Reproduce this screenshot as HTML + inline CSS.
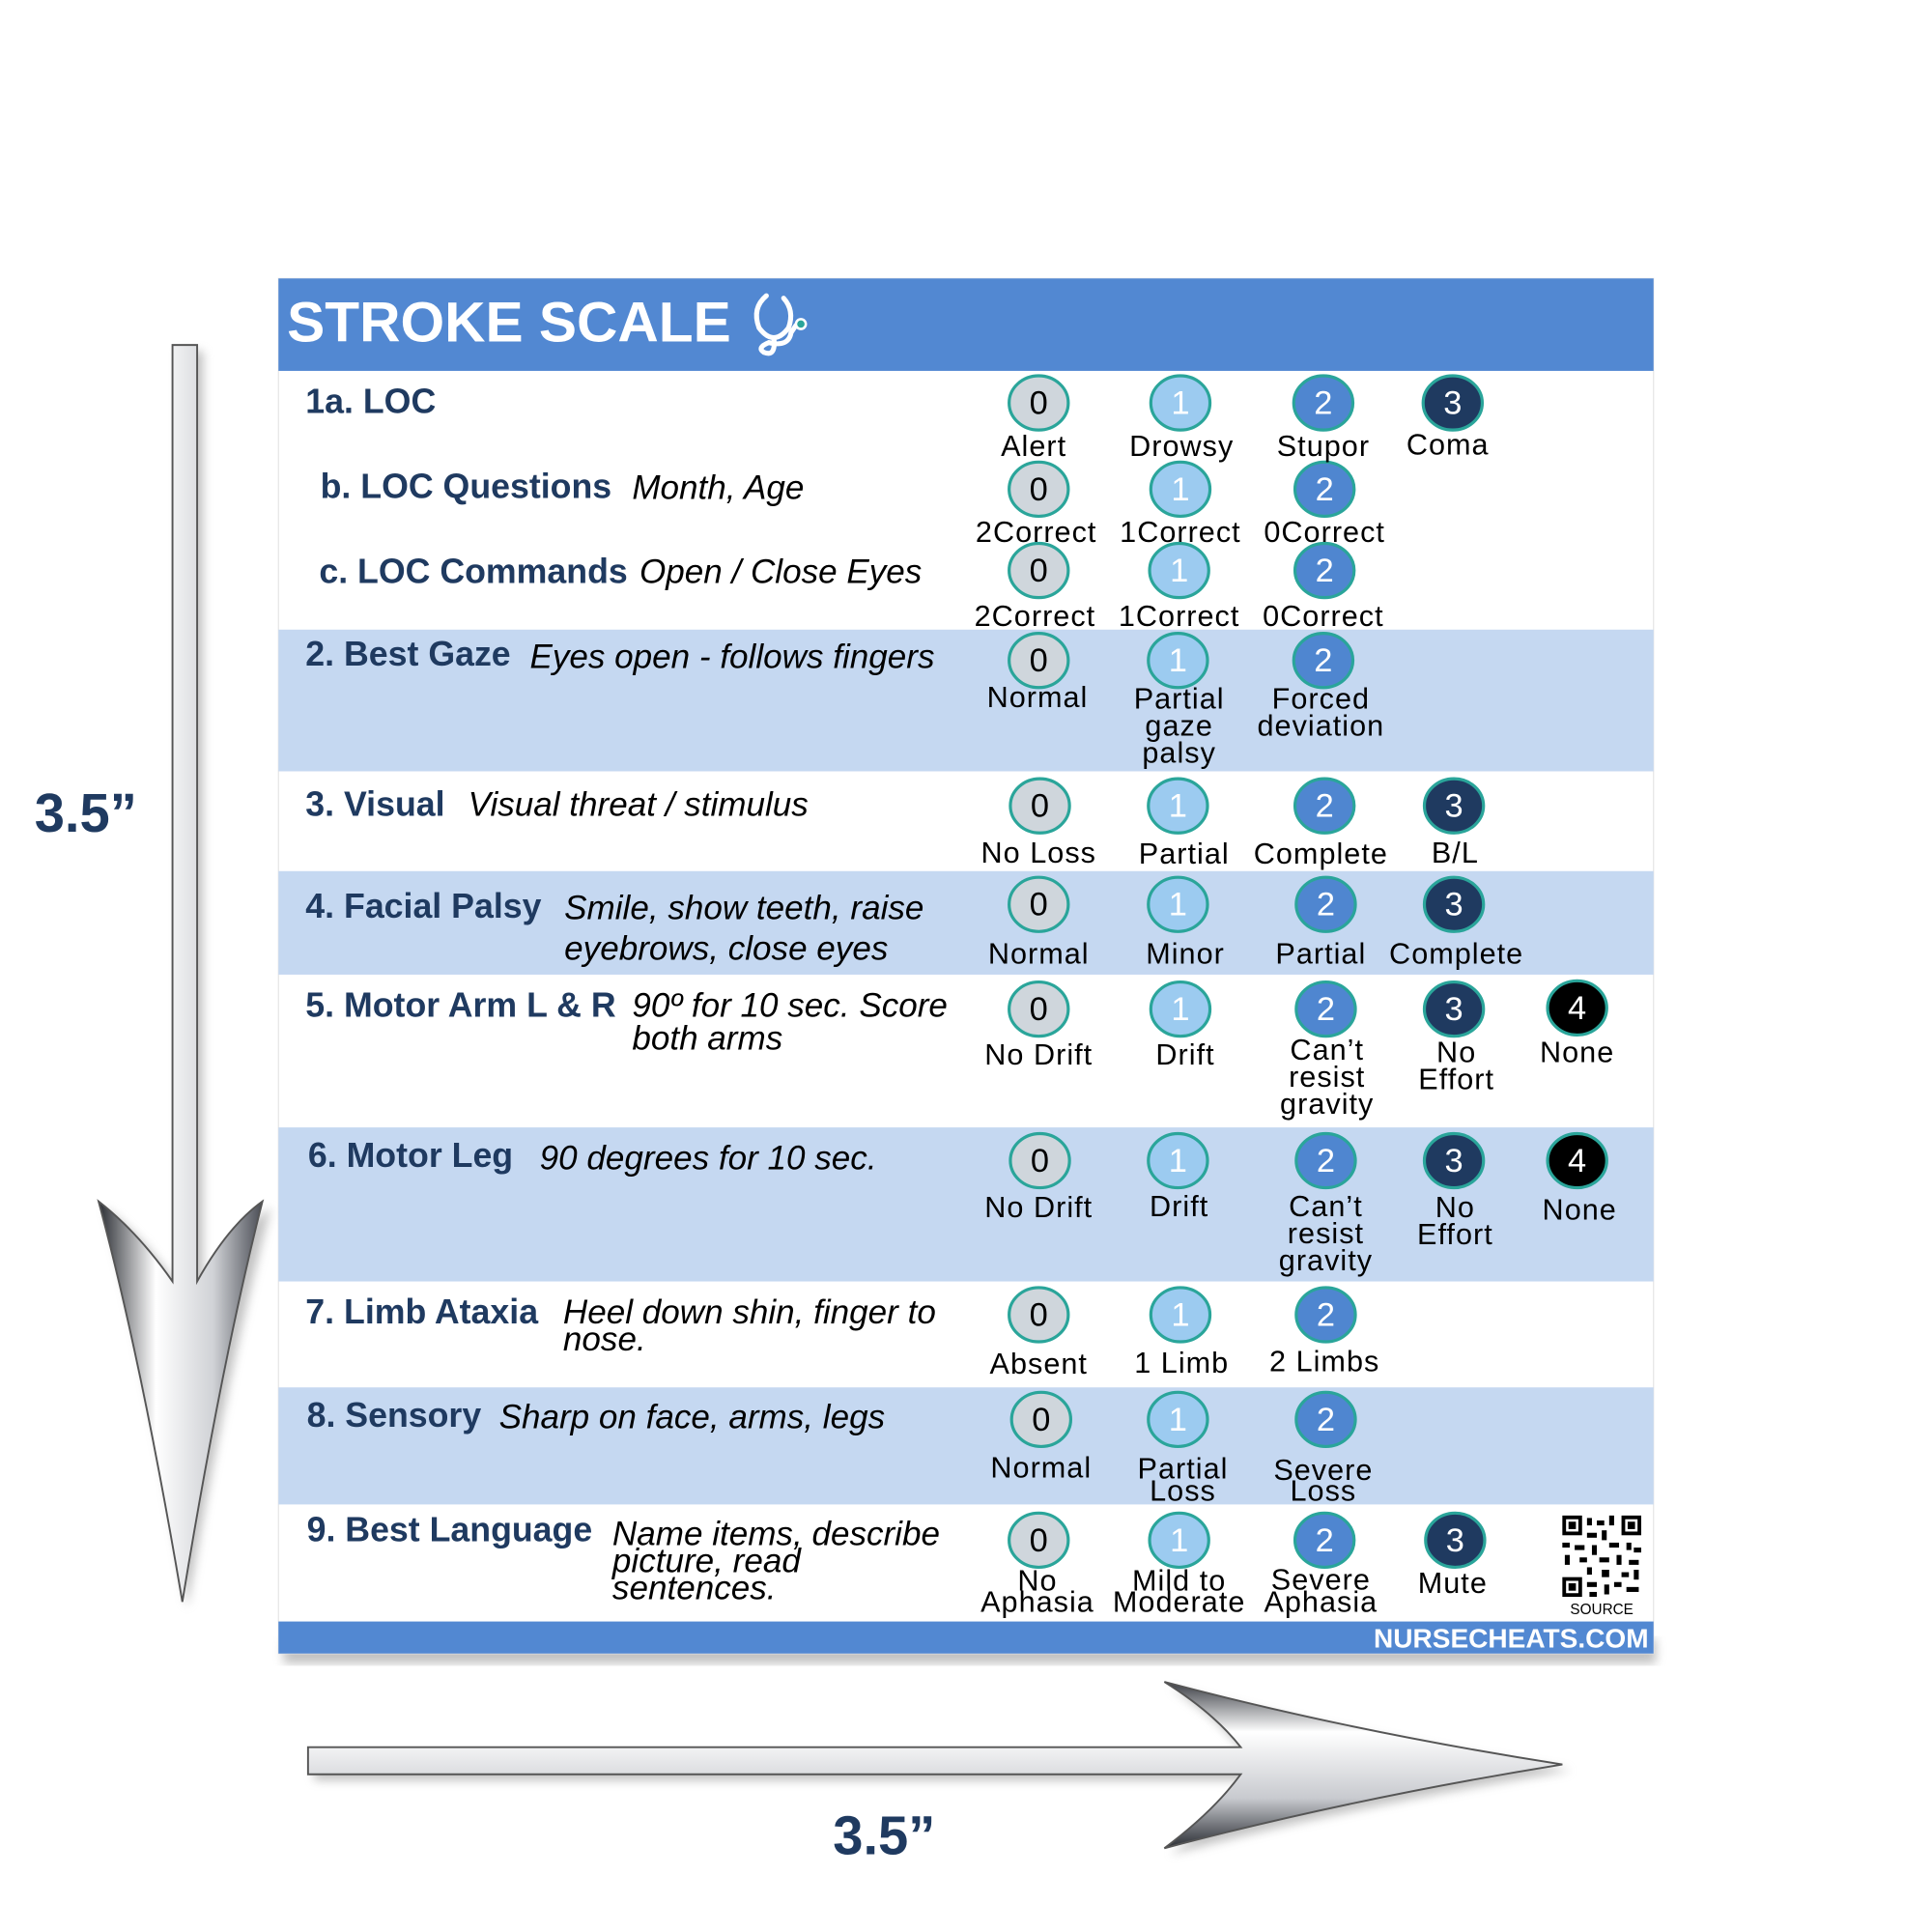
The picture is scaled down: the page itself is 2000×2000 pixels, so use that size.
<!DOCTYPE html>
<html><head><meta charset="utf-8"><style>
html,body{margin:0;padding:0;background:#fff;}
svg{display:block;}
.l{font-family:"Liberation Sans",Arial,sans-serif;font-weight:bold;fill:#1f3a60;font-size:28px;}
.d{font-family:"Liberation Sans",Arial,sans-serif;font-style:italic;fill:#000;font-size:27.5px;}
.o{font-family:"Liberation Sans",Arial,sans-serif;fill:#000;font-size:24px;letter-spacing:0.8px;text-anchor:middle;}
</style></head><body>
<svg width="2000" height="2000" viewBox="0 0 1568 1568" xmlns="http://www.w3.org/2000/svg">
<defs>
<linearGradient id="mv" x1="0" x2="1" y1="0" y2="0">
<stop offset="0" stop-color="#2a2d33"/><stop offset="0.35" stop-color="#ffffff"/><stop offset="0.7" stop-color="#d0d2d6"/><stop offset="1" stop-color="#4a4d55"/></linearGradient>
<linearGradient id="mh" x1="0" x2="0" y1="0" y2="1">
<stop offset="0" stop-color="#3a3d44"/><stop offset="0.3" stop-color="#ffffff"/><stop offset="0.7" stop-color="#c8cacf"/><stop offset="1" stop-color="#2a2d33"/></linearGradient>
<filter id="sh"><feGaussianBlur stdDeviation="4"/></filter>
</defs>
<rect x="230" y="1330" width="1114" height="20" fill="#999" filter="url(#sh)" opacity="0.6"/>
<rect x="226" y="226" width="1116" height="1116" fill="#fff" stroke="#e6e6e6"/>
<rect x="226" y="226" width="1116" height="75" fill="#5288d2"/>
<text x="233" y="277" font-family="Liberation Sans,Arial,sans-serif" font-weight="bold" font-size="46" fill="#fff">STROKE SCALE</text>
<g fill="none" stroke="#fff" stroke-width="4" stroke-linecap="round">
<path d="M622 240 Q610 250 616 266 Q628 282 640 266 Q645 252 636 242"/>
<path d="M628 274 Q630 290 620 286 Q614 282 624 278 Q640 282 642 270 L646 264"/>
</g>
<circle cx="650" cy="263" r="4" fill="#2aa59a" stroke="#fff" stroke-width="2"/>
<rect x="226" y="511" width="1116" height="115" fill="#c5d8f1"/>
<rect x="226" y="707" width="1116" height="84" fill="#c5d8f1"/>
<rect x="226" y="915" width="1116" height="125" fill="#c5d8f1"/>
<rect x="226" y="1126" width="1116" height="95" fill="#c5d8f1"/>
<rect x="226" y="1316" width="1116" height="26" fill="#5288d2"/>
<text x="1338" y="1337" text-anchor="end" font-family="Liberation Sans,Arial,sans-serif" font-weight="bold" font-size="22" fill="#fff">NURSECHEATS.COM</text>

<text class="l" x="248" y="335">1a. LOC</text>
<text class="l" x="260" y="404">b. LOC Questions</text><text class="d" x="513" y="405">Month, Age</text>
<text class="l" x="259" y="473">c. LOC Commands</text><text class="d" x="519" y="473">Open / Close Eyes</text>
<text class="l" x="248" y="540">2. Best Gaze</text><text class="d" x="430" y="542">Eyes open - follows fingers</text>
<text class="l" x="248" y="662">3. Visual</text><text class="d" x="380" y="662">Visual threat / stimulus</text>
<text class="l" x="248" y="745">4. Facial Palsy</text><text class="d" x="458" y="746">Smile, show teeth, raise</text><text class="d" x="458" y="779">eyebrows, close eyes</text>
<text class="l" x="248" y="825">5. Motor Arm L &amp; R</text><text class="d" x="513" y="825">90º for 10 sec. Score</text><text class="d" x="513" y="852">both arms</text>
<text class="l" x="250" y="947">6. Motor Leg</text><text class="d" x="438" y="949">90 degrees for 10 sec.</text>
<text class="l" x="248" y="1074">7. Limb Ataxia</text><text class="d" x="457" y="1074">Heel down shin, finger to</text><text class="d" x="457" y="1096">nose.</text>
<text class="l" x="249" y="1158">8. Sensory</text><text class="d" x="405" y="1159">Sharp on face, arms, legs</text>
<text class="l" x="249" y="1251">9. Best Language</text><text class="d" x="497" y="1254">Name items, describe</text><text class="d" x="497" y="1276">picture, read</text><text class="d" x="497" y="1298">sentences.</text>

<g stroke="#2aa59a" stroke-width="2.5">
<g fill="#cfd6dc">
<ellipse cx="843" cy="327" rx="24" ry="22"/><ellipse cx="843" cy="397" rx="24" ry="22"/><ellipse cx="843" cy="463" rx="24" ry="22"/><ellipse cx="843" cy="536" rx="24" ry="22"/><ellipse cx="844" cy="654" rx="24" ry="22"/><ellipse cx="843" cy="734" rx="24" ry="22"/><ellipse cx="843" cy="819" rx="24" ry="22"/><ellipse cx="844" cy="942" rx="24" ry="22"/><ellipse cx="843" cy="1067" rx="24" ry="22"/><ellipse cx="845" cy="1152" rx="24" ry="22"/><ellipse cx="843" cy="1250" rx="24" ry="22"/>
</g>
<g fill="#9ccbf0">
<ellipse cx="958" cy="327" rx="24" ry="22"/><ellipse cx="958" cy="397" rx="24" ry="22"/><ellipse cx="957" cy="463" rx="24" ry="22"/><ellipse cx="956" cy="536" rx="24" ry="22"/><ellipse cx="956" cy="654" rx="24" ry="22"/><ellipse cx="956" cy="734" rx="24" ry="22"/><ellipse cx="958" cy="819" rx="24" ry="22"/><ellipse cx="956" cy="942" rx="24" ry="22"/><ellipse cx="958" cy="1067" rx="24" ry="22"/><ellipse cx="956" cy="1152" rx="24" ry="22"/><ellipse cx="957" cy="1250" rx="24" ry="22"/>
</g>
<g fill="#4f86d0">
<ellipse cx="1074" cy="327" rx="24" ry="22"/><ellipse cx="1075" cy="397" rx="24" ry="22"/><ellipse cx="1075" cy="463" rx="24" ry="22"/><ellipse cx="1074" cy="536" rx="24" ry="22"/><ellipse cx="1075" cy="654" rx="24" ry="22"/><ellipse cx="1076" cy="734" rx="24" ry="22"/><ellipse cx="1076" cy="819" rx="24" ry="22"/><ellipse cx="1076" cy="942" rx="24" ry="22"/><ellipse cx="1076" cy="1067" rx="24" ry="22"/><ellipse cx="1076" cy="1152" rx="24" ry="22"/><ellipse cx="1075" cy="1250" rx="24" ry="22"/>
</g>
<g fill="#1f3a60">
<ellipse cx="1179" cy="327" rx="24" ry="22"/><ellipse cx="1180" cy="654" rx="24" ry="22"/><ellipse cx="1180" cy="734" rx="24" ry="22"/><ellipse cx="1180" cy="819" rx="24" ry="22"/><ellipse cx="1180" cy="942" rx="24" ry="22"/><ellipse cx="1181" cy="1250" rx="24" ry="22"/>
</g>
<g fill="#000">
<ellipse cx="1280" cy="818" rx="24" ry="22"/><ellipse cx="1280" cy="942" rx="24" ry="22"/>
</g>
</g>
<g font-family="Liberation Sans,Arial,sans-serif" font-size="27" text-anchor="middle">
<g fill="#000"><text x="843" y="336">0</text><text x="843" y="406">0</text><text x="843" y="472">0</text><text x="843" y="545">0</text><text x="844" y="663">0</text><text x="843" y="743">0</text><text x="843" y="828">0</text><text x="844" y="951">0</text><text x="843" y="1076">0</text><text x="845" y="1161">0</text><text x="843" y="1259">0</text></g>
<g fill="#fff"><text x="958" y="336">1</text><text x="958" y="406">1</text><text x="957" y="472">1</text><text x="956" y="545">1</text><text x="956" y="663">1</text><text x="956" y="743">1</text><text x="958" y="828">1</text><text x="956" y="951">1</text><text x="958" y="1076">1</text><text x="956" y="1161">1</text><text x="957" y="1259">1</text>
<text x="1074" y="336">2</text><text x="1075" y="406">2</text><text x="1075" y="472">2</text><text x="1074" y="545">2</text><text x="1075" y="663">2</text><text x="1076" y="743">2</text><text x="1076" y="828">2</text><text x="1076" y="951">2</text><text x="1076" y="1076">2</text><text x="1076" y="1161">2</text><text x="1075" y="1259">2</text>
<text x="1179" y="336">3</text><text x="1180" y="663">3</text><text x="1180" y="743">3</text><text x="1180" y="828">3</text><text x="1180" y="951">3</text><text x="1181" y="1259">3</text>
<text x="1280" y="827">4</text><text x="1280" y="951">4</text></g>
</g>
<g class="o">
<text x="839" y="370">Alert</text><text x="959" y="370">Drowsy</text><text x="1074" y="370">Stupor</text><text x="1175" y="369">Coma</text>
<text x="841" y="440">2Correct</text><text x="958" y="440">1Correct</text><text x="1075" y="440">0Correct</text>
<text x="840" y="508">2Correct</text><text x="957" y="508">1Correct</text><text x="1074" y="508">0Correct</text>
<text x="842" y="574">Normal</text><text x="957" y="575">Partial</text><text x="957" y="597">gaze</text><text x="957" y="619">palsy</text><text x="1072" y="575">Forced</text><text x="1072" y="597">deviation</text>
<text x="843" y="700">No Loss</text><text x="961" y="701">Partial</text><text x="1072" y="701">Complete</text><text x="1181" y="700">B/L</text>
<text x="843" y="782">Normal</text><text x="962" y="782">Minor</text><text x="1072" y="782">Partial</text><text x="1182" y="782">Complete</text>
<text x="843" y="864">No Drift</text><text x="962" y="864">Drift</text><text x="1077" y="860">Can’t</text><text x="1077" y="882">resist</text><text x="1077" y="904">gravity</text><text x="1182" y="862">No</text><text x="1182" y="884">Effort</text><text x="1280" y="862">None</text>
<text x="843" y="988">No Drift</text><text x="957" y="987">Drift</text><text x="1076" y="987">Can’t</text><text x="1076" y="1009">resist</text><text x="1076" y="1031">gravity</text><text x="1181" y="988">No</text><text x="1181" y="1010">Effort</text><text x="1282" y="990">None</text>
<text x="843" y="1115">Absent</text><text x="959" y="1114">1 Limb</text><text x="1075" y="1113">2 Limbs</text>
<text x="845" y="1199">Normal</text><text x="960" y="1200">Partial</text><text x="960" y="1218">Loss</text><text x="1074" y="1201">Severe</text><text x="1074" y="1218">Loss</text>
<text x="842" y="1291">No</text><text x="842" y="1308">Aphasia</text><text x="957" y="1291">Mild to</text><text x="957" y="1308">Moderate</text><text x="1072" y="1290">Severe</text><text x="1072" y="1308">Aphasia</text><text x="1179" y="1293">Mute</text>
</g>
<g fill="#000">
<rect x="1268" y="1230" width="16" height="16"/><rect x="1271" y="1233" width="10" height="10" fill="#fff"/><rect x="1273" y="1235" width="6" height="6"/>
<rect x="1316" y="1230" width="16" height="16"/><rect x="1319" y="1233" width="10" height="10" fill="#fff"/><rect x="1321" y="1235" width="6" height="6"/>
<rect x="1268" y="1280" width="16" height="16"/><rect x="1271" y="1283" width="10" height="10" fill="#fff"/><rect x="1273" y="1285" width="6" height="6"/>
<rect x="1288" y="1232" width="4" height="6"/><rect x="1296" y="1234" width="6" height="4"/><rect x="1306" y="1230" width="4" height="8"/><rect x="1288" y="1244" width="8" height="4"/><rect x="1300" y="1242" width="4" height="8"/>
<rect x="1268" y="1252" width="6" height="4"/><rect x="1278" y="1254" width="8" height="4"/><rect x="1292" y="1254" width="4" height="8"/><rect x="1306" y="1252" width="8" height="4"/><rect x="1320" y="1252" width="4" height="6"/><rect x="1326" y="1256" width="6" height="4"/>
<rect x="1270" y="1262" width="4" height="8"/><rect x="1282" y="1264" width="6" height="4"/><rect x="1298" y="1264" width="8" height="4"/><rect x="1312" y="1262" width="4" height="8"/><rect x="1322" y="1266" width="8" height="4"/>
<rect x="1288" y="1272" width="4" height="6"/><rect x="1300" y="1274" width="6" height="6"/><rect x="1316" y="1276" width="6" height="4"/><rect x="1326" y="1274" width="4" height="8"/>
<rect x="1288" y="1284" width="8" height="4"/><rect x="1302" y="1286" width="4" height="8"/><rect x="1310" y="1284" width="6" height="4"/><rect x="1320" y="1288" width="10" height="4"/><rect x="1290" y="1292" width="6" height="4"/>
</g>
<text x="1300" y="1310" text-anchor="middle" font-family="Liberation Sans,Arial,sans-serif" font-size="12" fill="#000">SOURCE</text>

<path d="M145 285 L165 285 L165 1045 Q190 1000 220 980 Q185 1110 152 1305 Q120 1110 85 980 Q118 1005 145 1045 Z" fill="#888" filter="url(#sh)" opacity="0.5"/>
<path d="M140 280 L160 280 L160 1040 Q185 995 213 975 Q180 1105 148 1300 Q115 1105 80 975 Q112 1000 140 1040 Z" fill="url(#mv)" stroke="#555" stroke-width="1.5"/>
<path d="M255 1425 L1012 1425 Q990 1395 950 1370 Q1100 1410 1275 1437 Q1100 1465 950 1505 Q990 1475 1012 1445 L255 1445 Z" fill="#888" filter="url(#sh)" opacity="0.5"/>
<path d="M250 1418 L1007 1418 Q985 1390 945 1365 Q1095 1405 1268 1432 Q1095 1460 945 1500 Q985 1470 1007 1440 L250 1440 Z" fill="url(#mh)" stroke="#555" stroke-width="1.5"/>
<text x="28" y="675" font-family="Liberation Sans,Arial,sans-serif" font-weight="bold" font-size="44" fill="#1f3a60">3.5”</text>
<text x="676" y="1505" font-family="Liberation Sans,Arial,sans-serif" font-weight="bold" font-size="44" fill="#1f3a60">3.5”</text>
</svg>
</body></html>
